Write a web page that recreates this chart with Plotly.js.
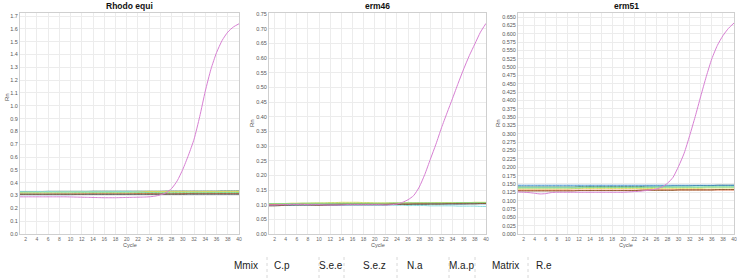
<!DOCTYPE html>
<html>
<head>
<meta charset="utf-8">
<script src="https://cdn.plot.ly/plotly-3.0.1.min.js"></script>
<style>html,body{margin:0;padding:0;background:#fff;}#chart{width:737px;height:278px;}</style>
</head>
<body>
<div id="chart"></div>
<script>
// ---------- data ----------
const cycles = [1,2,3,4,5,6,7,8,9,10,11,12,13,14,15,16,17,18,19,20,21,22,23,24,25,26,27,28,29,30,31,32,33,34,35,36,37,38,39,40];
const sampleNames = ["Mmix","C.p","S.e.e","S.e.z","N.a","M.a.p","Matrix","R.e"];
const panelTitles = ["Rhodo equi","erm46","erm51"];

// Panel 1: Rhodo equi
const rhodo_Mmix   = [0.332,0.332,0.332,0.332,0.332,0.333,0.333,0.333,0.333,0.333,0.333,0.333,0.333,0.334,0.334,0.334,0.334,0.334,0.334,0.334,0.334,0.334,0.334,0.334,0.334,0.334,0.335,0.335,0.335,0.335,0.335,0.335,0.335,0.335,0.335,0.335,0.336,0.336,0.336,0.336];
const rhodo_Cp     = [0.326,0.326,0.327,0.327,0.328,0.328,0.329,0.329,0.330,0.330,0.330,0.330,0.330,0.329,0.329,0.329,0.328,0.328,0.328,0.329,0.329,0.330,0.330,0.331,0.331,0.331,0.331,0.330,0.330,0.330,0.330,0.330,0.330,0.331,0.331,0.331,0.331,0.332,0.332,0.332];
const rhodo_See    = [0.330,0.330,0.330,0.331,0.331,0.331,0.331,0.330,0.330,0.330,0.330,0.330,0.330,0.330,0.330,0.330,0.330,0.331,0.331,0.331,0.330,0.328,0.325,0.322,0.320,0.318,0.317,0.316,0.316,0.316,0.316,0.317,0.318,0.319,0.320,0.321,0.322,0.322,0.322,0.322];
const rhodo_Sez    = [0.312,0.312,0.312,0.312,0.312,0.312,0.313,0.313,0.313,0.313,0.313,0.313,0.313,0.313,0.313,0.313,0.313,0.313,0.313,0.313,0.314,0.315,0.315,0.315,0.314,0.313,0.313,0.313,0.314,0.315,0.316,0.317,0.317,0.317,0.317,0.316,0.316,0.315,0.315,0.315];
const rhodo_Na     = [0.320,0.320,0.320,0.321,0.321,0.321,0.321,0.321,0.321,0.321,0.322,0.322,0.322,0.322,0.322,0.322,0.322,0.322,0.322,0.322,0.322,0.322,0.322,0.322,0.323,0.323,0.323,0.323,0.323,0.323,0.323,0.323,0.323,0.323,0.324,0.324,0.324,0.324,0.324,0.324];
const rhodo_Map    = [0.307,0.307,0.307,0.307,0.307,0.307,0.307,0.307,0.307,0.307,0.308,0.308,0.308,0.308,0.308,0.308,0.308,0.308,0.308,0.308,0.308,0.308,0.308,0.308,0.309,0.309,0.309,0.309,0.309,0.309,0.310,0.310,0.310,0.310,0.310,0.310,0.310,0.310,0.310,0.310];
const rhodo_Matrix = [0.310,0.310,0.310,0.310,0.310,0.310,0.310,0.310,0.310,0.310,0.310,0.310,0.311,0.311,0.311,0.311,0.311,0.311,0.311,0.311,0.311,0.311,0.311,0.311,0.311,0.311,0.311,0.311,0.311,0.311,0.312,0.312,0.312,0.312,0.312,0.312,0.312,0.312,0.312,0.312];
const rhodo_Re     = [0.290,0.290,0.290,0.290,0.290,0.290,0.290,0.290,0.290,0.289,0.288,0.287,0.286,0.285,0.284,0.283,0.283,0.283,0.284,0.285,0.286,0.287,0.288,0.290,0.295,0.305,0.322,0.355,0.415,0.505,0.615,0.740,0.915,1.115,1.285,1.415,1.510,1.575,1.615,1.640];

// Panel 2: erm46
const erm46_Mmix   = [0.102,0.102,0.102,0.102,0.103,0.103,0.103,0.103,0.103,0.103,0.103,0.103,0.103,0.104,0.104,0.104,0.104,0.104,0.104,0.104,0.104,0.104,0.104,0.104,0.104,0.105,0.105,0.105,0.105,0.105,0.105,0.105,0.105,0.105,0.105,0.106,0.106,0.106,0.106,0.106];
const erm46_Cp     = [0.104,0.104,0.104,0.104,0.105,0.105,0.105,0.105,0.106,0.106,0.106,0.107,0.107,0.108,0.108,0.108,0.108,0.107,0.107,0.106,0.106,0.106,0.106,0.106,0.106,0.106,0.106,0.106,0.106,0.106,0.107,0.107,0.107,0.107,0.107,0.107,0.107,0.108,0.108,0.108];
const erm46_See    = [0.097,0.097,0.097,0.098,0.098,0.098,0.098,0.098,0.098,0.098,0.098,0.098,0.098,0.098,0.098,0.098,0.098,0.098,0.098,0.098,0.098,0.098,0.098,0.098,0.098,0.097,0.097,0.097,0.097,0.096,0.096,0.096,0.096,0.096,0.095,0.095,0.095,0.095,0.094,0.094];
const erm46_Sez    = [0.101,0.101,0.101,0.101,0.102,0.102,0.102,0.101,0.101,0.101,0.101,0.101,0.102,0.102,0.102,0.102,0.102,0.102,0.102,0.102,0.103,0.103,0.103,0.103,0.103,0.103,0.103,0.104,0.104,0.104,0.104,0.104,0.104,0.104,0.104,0.105,0.105,0.105,0.105,0.105];
const erm46_Na     = [0.104,0.104,0.104,0.104,0.104,0.104,0.105,0.105,0.105,0.105,0.105,0.105,0.105,0.105,0.105,0.105,0.105,0.105,0.105,0.105,0.105,0.105,0.106,0.106,0.106,0.106,0.106,0.106,0.106,0.106,0.106,0.106,0.106,0.106,0.107,0.107,0.107,0.107,0.107,0.107];
const erm46_Map    = [0.097,0.097,0.097,0.098,0.098,0.099,0.099,0.099,0.099,0.099,0.099,0.099,0.099,0.099,0.100,0.100,0.100,0.100,0.100,0.100,0.100,0.100,0.101,0.101,0.101,0.101,0.101,0.101,0.101,0.102,0.102,0.102,0.102,0.102,0.102,0.102,0.103,0.103,0.103,0.103];
const erm46_Matrix = [0.096,0.096,0.097,0.098,0.099,0.099,0.099,0.099,0.098,0.098,0.098,0.099,0.099,0.100,0.100,0.100,0.100,0.100,0.100,0.100,0.100,0.100,0.101,0.101,0.101,0.101,0.102,0.102,0.102,0.102,0.102,0.102,0.103,0.103,0.103,0.103,0.103,0.103,0.104,0.104];
const erm46_Re     = [0.099,0.099,0.100,0.100,0.101,0.101,0.101,0.100,0.100,0.100,0.099,0.099,0.099,0.099,0.100,0.100,0.100,0.100,0.100,0.100,0.100,0.099,0.100,0.102,0.108,0.117,0.131,0.160,0.203,0.255,0.306,0.362,0.413,0.463,0.514,0.563,0.608,0.648,0.688,0.718];

// Panel 3: erm51
const erm51_Mmix   = [0.141,0.141,0.141,0.141,0.141,0.141,0.141,0.141,0.141,0.141,0.141,0.142,0.142,0.142,0.142,0.142,0.142,0.142,0.142,0.142,0.142,0.142,0.142,0.143,0.143,0.143,0.143,0.143,0.144,0.144,0.144,0.144,0.145,0.145,0.145,0.145,0.146,0.146,0.146,0.146];
const erm51_Cp     = [0.135,0.135,0.135,0.135,0.135,0.135,0.135,0.135,0.135,0.135,0.136,0.136,0.136,0.136,0.136,0.136,0.136,0.136,0.136,0.136,0.136,0.136,0.136,0.136,0.136,0.137,0.137,0.137,0.137,0.137,0.137,0.137,0.137,0.137,0.138,0.138,0.138,0.138,0.138,0.138];
const erm51_See    = [0.140,0.140,0.140,0.140,0.140,0.140,0.140,0.140,0.140,0.140,0.140,0.140,0.140,0.140,0.140,0.140,0.140,0.140,0.140,0.140,0.140,0.140,0.140,0.140,0.141,0.141,0.141,0.141,0.141,0.141,0.141,0.141,0.141,0.141,0.141,0.141,0.141,0.141,0.141,0.141];
const erm51_Sez    = [0.131,0.131,0.131,0.131,0.131,0.131,0.131,0.131,0.131,0.131,0.131,0.131,0.131,0.131,0.131,0.131,0.131,0.131,0.131,0.131,0.131,0.131,0.131,0.132,0.132,0.132,0.132,0.132,0.132,0.132,0.132,0.132,0.132,0.132,0.132,0.132,0.132,0.132,0.132,0.132];
const erm51_Na     = [0.138,0.138,0.138,0.138,0.138,0.138,0.138,0.138,0.138,0.138,0.138,0.138,0.139,0.139,0.139,0.139,0.139,0.139,0.139,0.139,0.139,0.139,0.139,0.139,0.139,0.140,0.140,0.140,0.140,0.140,0.140,0.140,0.140,0.140,0.141,0.141,0.141,0.141,0.141,0.141];
const erm51_Map    = [0.146,0.146,0.146,0.146,0.146,0.146,0.146,0.146,0.146,0.146,0.146,0.146,0.146,0.146,0.146,0.146,0.146,0.146,0.146,0.146,0.146,0.146,0.146,0.146,0.146,0.146,0.146,0.146,0.146,0.146,0.146,0.146,0.146,0.146,0.146,0.146,0.146,0.146,0.146,0.146];
const erm51_Matrix = [0.129,0.129,0.129,0.129,0.129,0.129,0.129,0.129,0.129,0.129,0.129,0.130,0.130,0.130,0.130,0.130,0.130,0.130,0.130,0.130,0.130,0.130,0.131,0.131,0.131,0.131,0.131,0.131,0.131,0.132,0.132,0.132,0.132,0.132,0.132,0.132,0.133,0.133,0.133,0.133];
const erm51_Re     = [0.126,0.125,0.124,0.122,0.120,0.121,0.124,0.125,0.125,0.125,0.125,0.125,0.125,0.125,0.125,0.125,0.125,0.125,0.125,0.125,0.126,0.127,0.128,0.130,0.132,0.135,0.141,0.152,0.170,0.203,0.242,0.295,0.352,0.413,0.472,0.525,0.565,0.594,0.616,0.632];

const sampleColors = ["#4f7f62","#e4dc5a","#86dcdc","#e8643c","#86dc86","#3f8fd0","#8a5a2e","#d77fd3"];

const panelSeries = [
  [rhodo_Mmix,rhodo_Cp,rhodo_See,rhodo_Sez,rhodo_Na,rhodo_Map,rhodo_Matrix,rhodo_Re],
  [erm46_Mmix,erm46_Cp,erm46_See,erm46_Sez,erm46_Na,erm46_Map,erm46_Matrix,erm46_Re],
  [erm51_Mmix,erm51_Cp,erm51_See,erm51_Sez,erm51_Na,erm51_Map,erm51_Matrix,erm51_Re]
];
const yMax = [1.724, 0.7534, 0.662];
const yStep = [0.1, 0.05, 0.025];
const yFmt = [".1f", ".2f", ".3f"];

// ---------- layout geometry (pixels) ----------
const W = 737, H = 278;
const plotX = [[20,239],[269,486],[518,734]];
const plotTop = 13, plotBottom = 234;
const rnPos = [[7,97],[252,123],[498,123]];

const traces = [];
panelSeries.forEach((series, p) => {
  const ax = p === 0 ? "" : String(p+1);
  series.forEach((vals, i) => {
    traces.push({
      x: cycles, y: vals, type: "scatter", mode: "lines",
      name: sampleNames[i], showlegend: false,
      line: {color: sampleColors[i], width: 1, shape: "spline", smoothing: 0.6},
      xaxis: "x"+ax, yaxis: "y"+ax, hoverinfo: "skip"
    });
  });
});

const layout = {
  width: W, height: H,
  margin: {l:0, r:0, t:0, b:0},
  paper_bgcolor: "#fff", plot_bgcolor: "#fff",
  font: {family: "Liberation Sans, Arial, sans-serif", color: "#444"},
  showlegend: false,
  annotations: [], shapes: []
};

for (let p = 0; p < 3; p++) {
  const ax = p === 0 ? "" : String(p+1);
  layout["xaxis"+ax] = {
    domain: [plotX[p][0]/W, plotX[p][1]/W],
    anchor: "y"+ax, range: [1, 40], tick0: 0, dtick: 2,
    showgrid: true, gridcolor: "#ececec", gridwidth: 1,
    zeroline: false, showline: true, linecolor: "#cfcfcf", linewidth: 1, mirror: true,
    ticks: "", ticklabelstandoff: 0,
    tickfont: {size: 5, color: "#666"}
  };
  layout["yaxis"+ax] = {
    domain: [1 - plotBottom/H, 1 - plotTop/H],
    anchor: "x"+ax, range: [0, yMax[p]], tick0: 0, dtick: yStep[p],
    tickformat: yFmt[p],
    showgrid: true, gridcolor: "#ececec", gridwidth: 1,
    zeroline: false, showline: true, linecolor: "#cfcfcf", linewidth: 1, mirror: true,
    ticks: "", tickfont: {size: 5.5, color: "#555"}
  };
  const cx = (plotX[p][0] + plotX[p][1]) / 2;
  layout.annotations.push({
    text: "<b>" + panelTitles[p] + "</b>", xref: "paper", yref: "paper",
    x: cx/W, y: 1 - 6/H, xanchor: "center", yanchor: "middle", showarrow: false,
    font: {size: 8.5, color: "#111", family: "Liberation Sans, Arial, sans-serif"}
  });
  layout.annotations.push({
    text: "Cycle", xref: "paper", yref: "paper",
    x: cx/W, y: 1 - 245/H, xanchor: "center", yanchor: "middle", showarrow: false,
    font: {size: 5.5, color: "#555"}
  });
  layout.annotations.push({
    text: "Rn", xref: "paper", yref: "paper", textangle: -90,
    x: rnPos[p][0]/W, y: 1 - rnPos[p][1]/H, xanchor: "center", yanchor: "middle", showarrow: false,
    font: {size: 6, color: "#555"}
  });
}

// bottom label strip
const labelCenters = [245.5, 282, 331, 374.5, 414.5, 461.5, 505.5, 544];
sampleNames.forEach((n, i) => {
  layout.annotations.push({
    text: n, xref: "paper", yref: "paper",
    x: labelCenters[i]/W, y: 1 - 265/H, xanchor: "center", yanchor: "middle", showarrow: false,
    font: {size: 10, color: "#222", family: "Liberation Sans, Arial, sans-serif"}
  });
});
const separators = [267, 319, 344, 397, 449, 475, 528];
separators.forEach(sx => {
  layout.shapes.push({
    type: "line", xref: "paper", yref: "paper",
    x0: sx/W, x1: sx/W, y0: 0, y1: 1 - 254/H,
    line: {color: "#d8d8d8", width: 1, dash: "dot"}
  });
});

Plotly.newPlot("chart", traces, layout, {staticPlot: true, displayModeBar: false});
</script>
</body>
</html>
